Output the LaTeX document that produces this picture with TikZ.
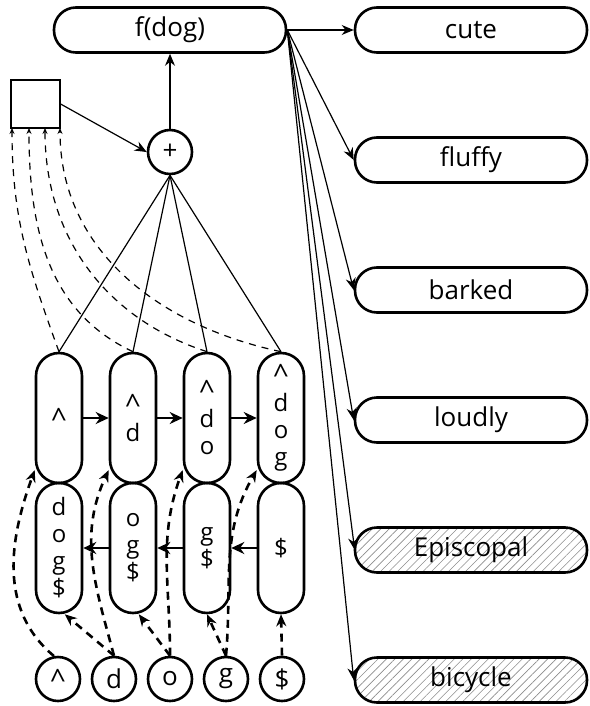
\documentclass[tikz,border=0pt]{standalone}
\usepackage{fontspec}
\setmainfont{Open Sans}
\usetikzlibrary{arrows.meta,patterns.meta}
\newcommand\crt{{\fontsize{28}{27}\selectfont\textasciicircum}}

\begin{document}
\begin{tikzpicture}[x=1pt, y=1pt,
  pill/.style={draw, line width=2.6pt, rounded corners=22pt, minimum width=232pt, minimum height=45pt, inner sep=0pt, font=\fontsize{26}{30}\selectfont},
  hatched/.style={pattern={Lines[angle=45,distance=6pt,line width=0.6pt]}, pattern color=gray!90},
  tall/.style={draw, line width=2.6pt, rounded corners=23pt, minimum width=46pt, minimum height=130pt, inner sep=0pt, align=center, font=\fontsize{24}{27}\selectfont},
  char/.style={draw, circle, line width=2.6pt, minimum size=44pt, inner sep=0pt, font=\fontsize{26}{30}\selectfont},
  thin line/.style={line width=1.2pt},
  thin dash/.style={line width=1.2pt, dash pattern=on 7pt off 6pt, -{Stealth[length=6pt,width=5pt]}},
  thick dash/.style={line width=2.6pt, dash pattern=on 8pt off 6pt, -{Stealth[length=12pt,width=10pt]}},
  tip/.style={-{Stealth[length=12pt,width=10pt]}},
  big tip/.style={-{Stealth[length=13pt,width=12pt]}}]
\useasboundingbox (0,0) rectangle (589,-706);
\node[pill] (F) at (170,-30) {f(dog)};
\node[pill] (W_0) at (471,-30) {cute};
\node[pill] (W_1) at (471,-160) {fluffy};
\node[pill] (W_2) at (471,-290) {barked};
\node[pill] (W_3) at (471,-420) {loudly};
\node[pill, hatched] (W_4) at (471,-550) {Episcopal};
\node[pill, hatched] (W_5) at (471,-680) {bicycle};
\node[draw, thin line, minimum width=49pt, minimum height=48pt, inner sep=0pt] (S) at (35.5,-104) {};
\coordinate (S_0) at (12,-128);
\coordinate (S_1) at (29,-128);
\coordinate (S_2) at (45,-128);
\coordinate (S_3) at (60,-128);
\node[char] (Plus) at (170,-152) {+};
\node[tall] (U_0) at (59,-418) {\crt};
\node[tall] (U_1) at (133,-418) {\crt\\d};
\node[tall] (U_2) at (207,-418) {\crt\\d\\o};
\node[tall] (U_3) at (281,-418) {\crt\\d\\o\\g};
\node[tall] (L_0) at (59,-548) {d\\o\\g\\\$};
\node[tall] (L_1) at (133,-548) {o\\g\\\$};
\node[tall] (L_2) at (207,-548) {g\\\$};
\node[tall] (L_3) at (281,-548) {\$};
\node[char] (C_0) at (58,-679) {\crt};
\node[char] (C_1) at (114,-679) {d};
\node[char] (C_2) at (170,-679) {o};
\node[char] (C_3) at (226,-679) {g};
\node[char] (C_4) at (282,-679) {\$};
\draw[thin line, tip] (F.east) -- (W_0.west);
\draw[thin line, tip] (F.east) -- (W_1.west);
\draw[thin line, tip] (F.east) -- (W_2.west);
\draw[thin line, tip] (F.east) -- (W_3.west);
\draw[thin line, tip] (F.east) -- (W_4.west);
\draw[thin line, tip] (F.east) -- (W_5.west);
\draw[thin line, tip] (Plus.north) -- (F.south);
\draw[thin line, tip] (S.east) -- (Plus.west);
\draw[thin line] (Plus.south) -- (U_0.north);
\draw[thin line] (Plus.south) -- (U_1.north);
\draw[thin line] (Plus.south) -- (U_2.north);
\draw[thin line] (Plus.south) -- (U_3.north);
\draw[thin dash] (U_0.north) to[out=110, in=-90] (S_0);
\draw[thin dash] (U_1.north) to[out=155, in=-90] (S_1);
\draw[thin dash] (U_2.north) to[out=162, in=-90] (S_2);
\draw[thin dash] (U_3.north) to[out=168, in=-90] (S_3);
\draw[line width=2.6pt, big tip] (U_0.east) -- (U_1.west);
\draw[line width=2.6pt, big tip] (U_1.east) -- (U_2.west);
\draw[line width=2.6pt, big tip] (U_2.east) -- (U_3.west);
\draw[line width=2.6pt, big tip] (L_3.west) -- (L_2.east);
\draw[line width=2.6pt, big tip] (L_2.west) -- (L_1.east);
\draw[line width=2.6pt, big tip] (L_1.west) -- (L_0.east);
\draw[thick dash] (C_0.100) to[out=140, in=250] (U_0.245);
\draw[thick dash] (C_1.north) to[out=105, in=245] (U_1.245);
\draw[thick dash] (C_1.north) -- (L_0.-85);
\draw[thick dash] (C_2.north) to[out=90, in=250] (U_2.245);
\draw[thick dash] (C_2.north) -- (L_1.-85);
\draw[thick dash] (C_3.north) to[out=85, in=240] (U_3.245);
\draw[thick dash] (C_3.north) -- (L_2.south);
\draw[thick dash] (C_4.north) -- (L_3.south);
\end{tikzpicture}
\end{document}
